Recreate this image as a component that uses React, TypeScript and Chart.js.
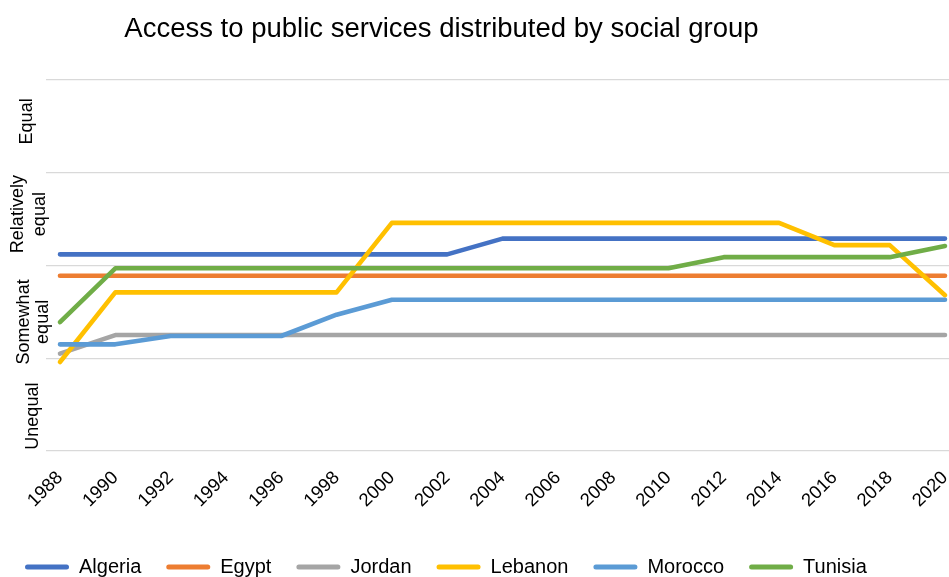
import React, { useEffect, useRef } from "react";
import { Chart, registerables } from "chart.js";

Chart.register(...registerables);

const chartTitle = "Access to public services distributed by social group";

const years = [1988, 1990, 1992, 1994, 1996, 1998, 2000, 2002, 2004, 2006, 2008, 2010, 2012, 2014, 2016, 2018, 2020];

const countries = ["Algeria", "Egypt", "Jordan", "Lebanon", "Morocco", "Tunisia"];

const algeria = [2.12, 2.12, 2.12, 2.12, 2.12, 2.12, 2.12, 2.12, 2.29, 2.29, 2.29, 2.29, 2.29, 2.29, 2.29, 2.29, 2.29];
const egypt = [1.89, 1.89, 1.89, 1.89, 1.89, 1.89, 1.89, 1.89, 1.89, 1.89, 1.89, 1.89, 1.89, 1.89, 1.89, 1.89, 1.89];
const jordan = [1.05, 1.25, 1.25, 1.25, 1.25, 1.25, 1.25, 1.25, 1.25, 1.25, 1.25, 1.25, 1.25, 1.25, 1.25, 1.25, 1.25];
const lebanon = [0.96, 1.71, 1.71, 1.71, 1.71, 1.71, 2.46, 2.46, 2.46, 2.46, 2.46, 2.46, 2.46, 2.46, 2.22, 2.22, 1.68];
const morocco = [1.15, 1.15, 1.24, 1.24, 1.24, 1.47, 1.63, 1.63, 1.63, 1.63, 1.63, 1.63, 1.63, 1.63, 1.63, 1.63, 1.63];
const tunisia = [1.39, 1.97, 1.97, 1.97, 1.97, 1.97, 1.97, 1.97, 1.97, 1.97, 1.97, 1.97, 2.09, 2.09, 2.09, 2.09, 2.21];

const seriesValues = [algeria, egypt, jordan, lebanon, morocco, tunisia];

// Category names for the vertical axis (bands between gridlines, bottom to top)
const yCategories = [["Unequal"], ["Somewhat", "equal"], ["Relatively", "equal"], ["Equal"]];

const colors = ["#4472C4", "#ED7D31", "#A5A5A5", "#FFC000", "#5B9BD5", "#70AD47"];

const FONT = '"Liberation Sans", Arial, Helvetica, sans-serif';

// label placement (pixels): vertical shift from band centre, x of each line
const yLabelSpec = [
  { dy: 11.5, xs: [33.4] },
  { dy: 10, xs: [24.5, 43] },
  { dy: -5, xs: [17.8, 40] },
  { dy: -5, xs: [26.7] },
];

const annotatePlugin = {
  id: "annotate",
  afterDraw(chart: any) {
    const { ctx } = chart;
    const ys = chart.scales.y;
    ctx.save();
    ctx.fillStyle = "#000";
    ctx.font = `27.5px ${FONT}`;
    ctx.textAlign = "center";
    ctx.textBaseline = "alphabetic";
    ctx.fillText(chartTitle, 441.5, 36.7);

    ctx.font = `18px ${FONT}`;
    ctx.textBaseline = "middle";
    yCategories.forEach((lines, i) => {
      const spec = yLabelSpec[i];
      const cy = ys.getPixelForValue(i + 0.5) + spec.dy;
      lines.forEach((line, k) => {
        ctx.save();
        ctx.translate(spec.xs[k], cy);
        ctx.rotate(-Math.PI / 2);
        ctx.fillText(line, 0, 0);
        ctx.restore();
      });
    });
    ctx.restore();
  },
};

export default function App() {
  const ref = useRef<HTMLCanvasElement>(null);

  useEffect(() => {
    if (!ref.current) return;
    Chart.defaults.font.family = FONT;
    const chart = new Chart(ref.current, {
      type: "line",
      data: {
        datasets: countries.map((name, i) => ({
          label: name,
          data: years.map((yr, j) => ({ x: yr, y: seriesValues[i][j] })),
          borderColor: colors[i],
          backgroundColor: colors[i],
          borderWidth: 4.6,
          pointRadius: 0,
          pointHoverRadius: 0,
          tension: 0,
          borderCapStyle: "round",
          borderJoinStyle: "round",
          fill: false,
          order: countries.length - i,
        })),
      },
      options: {
        responsive: false,
        animation: false,
        devicePixelRatio: 1,
        layout: { padding: { top: 80, left: 0, right: 0, bottom: 0 } },
        scales: {
          x: {
            type: "linear",
            min: 1987.494,
            max: 2020.145,
            afterBuildTicks: (s: any) => {
              s.ticks = years.map((v) => ({ value: v }));
            },
            afterFit: (s: any) => {
              s.height = 81;
              s.paddingLeft = 0;
              s.paddingRight = 0;
            },
            ticks: {
              autoSkip: false,
              minRotation: 45,
              maxRotation: 45,
              padding: 16,
              color: "#000",
              font: { size: 18.5 },
              callback: (v: any) => String(v),
            },
            grid: { display: false, drawTicks: false },
            border: { display: false },
          },
          y: {
            min: 0,
            max: 4,
            afterFit: (s: any) => {
              s.width = 46;
              s.paddingTop = 0;
              s.paddingBottom = 0;
            },
            ticks: { display: false, stepSize: 1 },
            grid: { color: "#d9d9d9", lineWidth: 1.2, drawTicks: false },
            border: { display: false },
          },
        },
        plugins: {
          title: { display: false },
          tooltip: { enabled: false },
          legend: {
            position: "bottom",
            align: "start",
            labels: {
              boxWidth: 44,
              boxHeight: 5,
              padding: 25,
              color: "#000",
              font: { size: 20 },
              sort: (a: any, b: any) => a.datasetIndex - b.datasetIndex,
              generateLabels: (c: any) =>
                (Chart.defaults.plugins.legend.labels as any)
                  .generateLabels(c)
                  .map((l: any) => ({ ...l, lineWidth: 0, borderRadius: 2.5 })),
            },
          },
        },
      } as any,
      plugins: [annotatePlugin],
    });
    return () => chart.destroy();
  }, []);

  return (
    <div
      style={{
        position: "fixed",
        left: 0,
        top: 0,
        width: 949,
        height: 577,
        overflow: "hidden",
        background: "#fff",
      }}
    >
      <canvas ref={ref} width={949} height={587} style={{ display: "block", width: 949, height: 587 }} />
    </div>
  );
}
